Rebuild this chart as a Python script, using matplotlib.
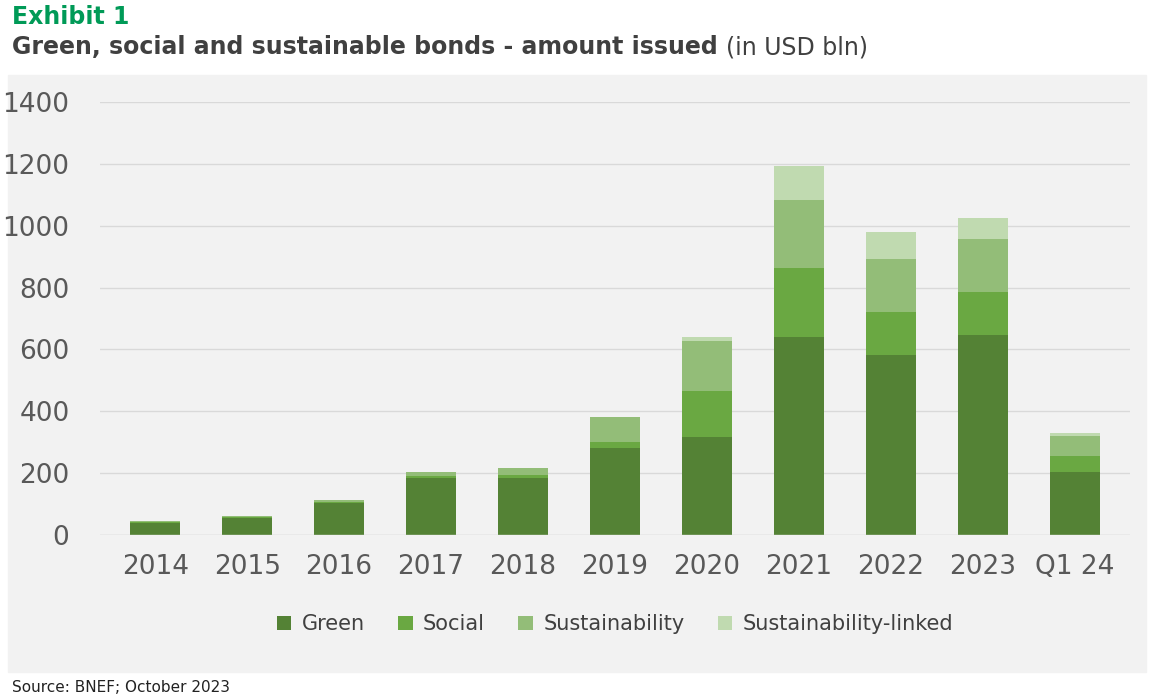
import matplotlib.pyplot as plt
import numpy as np
from matplotlib.patches import Rectangle

years = ["2014", "2015", "2016", "2017", "2018", "2019", "2020", "2021", "2022", "2023", "Q1 24"]
green = [40, 55, 105, 184, 184, 281, 317, 640, 582, 647, 204]
social = [3, 3, 3, 6, 10, 19, 149, 223, 139, 139, 51]
sustainability = [2, 2, 4, 14, 23, 81, 161, 220, 171, 171, 65]
linked = [0, 0, 0, 0, 0, 2, 13, 110, 88, 68, 10]

series = [("Green", green, "#548235"), ("Social", social, "#6aa842"),
          ("Sustainability", sustainability, "#93bd78"),
          ("Sustainability-linked", linked, "#c0dab0")]

fig = plt.figure(figsize=(11.5, 6.98), dpi=100)
bg = Rectangle((8 / 1150, 1 - 672 / 698), 1138 / 1150, 597 / 698,
               transform=fig.transFigure, color="#f2f2f2", zorder=-10)
fig.patches.append(bg)

ax = fig.add_axes([100 / 1150, 1 - 535 / 698, 1030 / 1150, 433 / 698])
ax.set_facecolor("#f2f2f2")
x = np.arange(len(years))
bottom = np.zeros(len(years))
for name, vals, col in series:
    ax.bar(x, vals, 0.55, bottom=bottom, color=col, label=name, zorder=3)
    bottom += np.array(vals)

ax.set_ylim(0, 1400)
ax.set_xlim(-0.6, len(years) - 0.4)
ax.set_yticks(range(0, 1401, 200))
ax.set_xticks(x)
ax.set_xticklabels(years)
ax.tick_params(axis="both", length=0, labelsize=19, colors="#595959")
ax.tick_params(axis="x", pad=14)
ax.tick_params(axis="y", pad=22)
ax.grid(axis="y", color="#d9d9d9", linewidth=1, zorder=0)
for s in ax.spines.values():
    s.set_visible(False)
ax.axhline(0, color="#d9d9d9", linewidth=1, zorder=4)

ax.legend(loc="upper center", bbox_to_anchor=(0.5, -0.14), ncol=4, frameon=False,
          fontsize=15, labelcolor="#404040", handlelength=0.7, handleheight=0.7,
          columnspacing=1.6, handletextpad=0.5)

fig.text(12 / 1150, 1 - 17 / 698, "Exhibit 1", fontsize=17, fontweight="bold",
         color="#009a57", va="center")
t = fig.text(12 / 1150, 1 - 47 / 698, "Green, social and sustainable bonds - amount issued",
             fontsize=17, fontweight="bold", color="#404040", va="center")
fig.canvas.draw()
x1 = t.get_window_extent().x1
fig.text(x1 / 1150 + 8 / 1150, 1 - 47 / 698, "(in USD bln)", fontsize=17, color="#404040",
         va="center")
fig.text(12 / 1150, 1 - 687 / 698, "Source: BNEF; October 2023", fontsize=11,
         color="#222222", va="center")

fig.savefig("out.png", dpi=100)
